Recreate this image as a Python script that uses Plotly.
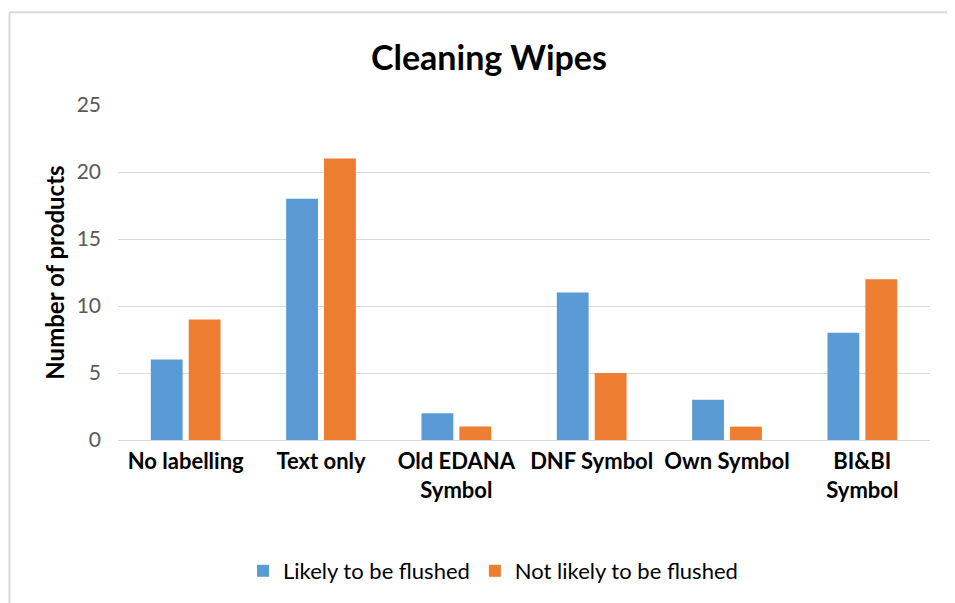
import plotly.graph_objects as go

categories = ["No labelling", "Text only", "Old EDANA<br>Symbol", "DNF Symbol", "Own Symbol", "BI&BI<br>Symbol"]
likely = [6, 18, 2, 11, 3, 8]
not_likely = [9, 21, 1, 5, 1, 12]
y_ticks = [0, 5, 10, 15, 20, 25]

FONT = "Lato"

# page body adds an 8px margin, so the figure is laid out 8px smaller
W, H = 947, 595
L, R, T, B = 110, 25, 97, 162
PW, PH = W - L - R, H - T - B


def px_x(x):
    return (x - 8 - L) / PW


def px_y(y):
    return (H - B - (y - 8)) / PH


fig = go.Figure()
fig.add_trace(go.Bar(x=categories, y=likely, name="Likely to be flushed",
                     marker=dict(color="#5b9bd5", line=dict(width=0))))
fig.add_trace(go.Bar(x=categories, y=not_likely, name="Not likely to be flushed",
                     marker=dict(color="#ed7d31", line=dict(width=0))))

# outer chart frame (only top and left edges are visible in the crop)
frame = dict(type="line", xref="paper", yref="paper", line=dict(color="#d9d9d9", width=2), layer="below")
fig.add_shape(**frame, x0=px_x(9.5), x1=px_x(960), y0=px_y(12), y1=px_y(12))
fig.add_shape(**frame, x0=px_x(9.5), x1=px_x(9.5), y0=px_y(12), y1=px_y(610))

fig.update_layout(
    width=W, height=H,
    paper_bgcolor="white", plot_bgcolor="white",
    margin=dict(l=L, r=R, t=T, b=B),
    barmode="group", bargap=0.44, bargroupgap=0.16,
    title=dict(text="<b>Cleaning Wipes</b>", x=px_x(489), xref="paper", xanchor="center",
               y=1 - (58 - 8) / H, yanchor="middle",
               font=dict(family=FONT, size=34, color="black")),
    font=dict(family=FONT),
    showlegend=True,
    legend=dict(orientation="h", x=px_x(493), xanchor="center",
                y=px_y(571), yanchor="middle",
                font=dict(family=FONT, size=22, color="black"),
                itemwidth=30, traceorder="normal"),
    xaxis=dict(tickfont=dict(family=FONT, size=22, color="black", weight="bold"),
               showline=False, ticks="", showgrid=False, ticklabelstandoff=6),
    yaxis=dict(range=[0, 25], tickvals=y_ticks, showgrid=True, gridcolor="#d9d9d9", gridwidth=1,
               zeroline=True, zerolinecolor="#d9d9d9", zerolinewidth=1,
               tickfont=dict(family=FONT, size=21, color="#595959"),
               ticks="", ticklabelstandoff=16,
               title=dict(text="<b>Number of products</b>", standoff=5,
                          font=dict(family=FONT, size=24, color="black"))),
)

fig.write_html("out.html")
